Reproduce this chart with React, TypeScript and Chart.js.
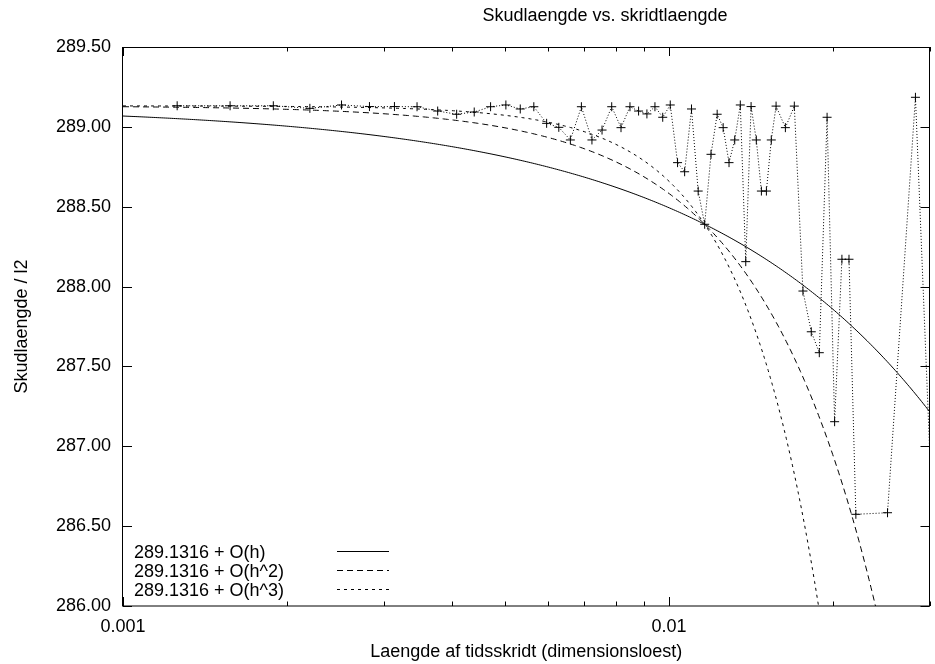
import React, { useEffect, useRef } from "react";
import { Chart, registerables } from "chart.js";

Chart.register(...registerables);

const TITLE = "Skudlaengde vs. skridtlaengde";
const X_TITLE = "Laengde af tidsskridt (dimensionsloest)";
const Y_TITLE = "Skudlaengde / l2";
const FONT = "'Liberation Sans', Arial, Helvetica, sans-serif";

// step lengths h (dimensionless) of the simulation runs
const stepLengths = [
  0.0012566, 0.0015708, 0.001885, 0.0021991, 0.0025133, 0.0028274, 0.0031416,
  0.0034558, 0.0037699, 0.0040841, 0.0043982, 0.0047124, 0.0050265, 0.0053407,
  0.0056549, 0.005969, 0.0062832, 0.0065973, 0.0069115, 0.0072257, 0.0075398,
  0.007854, 0.0081681, 0.0084823, 0.0087965, 0.0091106, 0.0094248, 0.0097389,
  0.0100531, 0.0103673, 0.0106814, 0.0109956, 0.0113097, 0.0116239, 0.0119381,
  0.0122522, 0.0125664, 0.0128805, 0.0131947, 0.0135088, 0.013823, 0.0141372,
  0.0144513, 0.0147655, 0.0150796, 0.0153938, 0.015708, 0.0163363, 0.0169646,
  0.0175929, 0.0182212, 0.0188496, 0.0194779, 0.0201062, 0.0207345, 0.0213628,
  0.0219911, 0.0251327, 0.0282743, 0.0314159,
];

// resulting shot length in units of l2
const shotLengths = [
  289.132, 289.132, 289.132, 289.116, 289.137, 289.127, 289.127,
  289.126, 289.099, 289.079, 289.093, 289.126, 289.137, 289.112,
  289.126, 289.022, 288.997, 288.918, 289.126, 288.918, 288.98,
  289.126, 288.995, 289.126, 289.099, 289.081, 289.126, 289.06,
  289.137, 288.776, 288.719, 289.112, 288.598, 288.39, 288.828,
  289.079, 288.995, 288.776, 288.918, 289.137, 288.156, 289.127,
  288.918, 288.598, 288.598, 288.918, 289.13, 288.995, 289.13,
  287.972, 287.717, 287.586, 289.06, 287.154, 288.171, 288.171,
  286.574, 286.584, 289.185, 285.3,
];

// extrapolated limit and leading-order error coefficients
const LIMIT = 289.1316;
const coefH1 = -63.8;
const coefH2 = -5488;
const coefH3 = -472200;

const legendLabels = ["289.1316 + O(h)", "289.1316 + O(h^2)", "289.1316 + O(h^3)"];

const X_MIN = 0.001;
const X_MAX = 0.03;
const Y_MIN = 286;
const Y_MAX = 289.5;
const Y_STEP = 0.5;
const xMajorTicks = [0.001, 0.01];
const xMinorTicks = [0.002, 0.003, 0.004, 0.005, 0.006, 0.007, 0.008, 0.009, 0.02, 0.03];
const yTickValues = [286, 286.5, 287, 287.5, 288, 288.5, 289, 289.5];

const CURVE_SAMPLES = 400;

function curve(coef: number, power: number) {
  const pts: { x: number; y: number }[] = [];
  const l0 = Math.log10(X_MIN);
  const l1 = Math.log10(X_MAX);
  for (let i = 0; i <= CURVE_SAMPLES; i++) {
    const h = Math.pow(10, l0 + ((l1 - l0) * i) / CURVE_SAMPLES);
    pts.push({ x: h, y: LIMIT + coef * Math.pow(h, power) });
  }
  return pts;
}

const frameAndLabels = {
  id: "frameAndLabels",
  afterDatasetsDraw(chart: any) {
    const { ctx, chartArea } = chart;
    const { left, right, top, bottom } = chartArea;
    const xs = chart.scales.x;
    const ys = chart.scales.y;
    const MAJOR = 9;
    const MINOR = 4.5;
    ctx.save();
    ctx.strokeStyle = "#000";
    ctx.lineWidth = 1;
    ctx.setLineDash([]);
    ctx.beginPath();
    for (const v of yTickValues) {
      const y = Math.round(ys.getPixelForValue(v)) + 0.5;
      ctx.moveTo(left, y);
      ctx.lineTo(left + MAJOR, y);
      ctx.moveTo(right, y);
      ctx.lineTo(right - MAJOR, y);
    }
    for (const v of xMajorTicks) {
      const x = Math.round(xs.getPixelForValue(v)) + 0.5;
      ctx.moveTo(x, bottom);
      ctx.lineTo(x, bottom - MAJOR);
      ctx.moveTo(x, top);
      ctx.lineTo(x, top + MAJOR);
    }
    for (const v of xMinorTicks) {
      const x = Math.round(xs.getPixelForValue(v)) + 0.5;
      ctx.moveTo(x, bottom);
      ctx.lineTo(x, bottom - MINOR);
      ctx.moveTo(x, top);
      ctx.lineTo(x, top + MINOR);
    }
    ctx.stroke();
    ctx.strokeRect(Math.round(left) - 0.5, Math.round(top) + 0.5, Math.round(right - left), Math.round(bottom - top) - 0.5);

    // legend inside the plot, lower left
    ctx.fillStyle = "#000";
    ctx.font = `18px ${FONT}`;
    ctx.textAlign = "left";
    ctx.textBaseline = "middle";
    const rows = [553, 572, 591];
    const datasets = chart.data.datasets;
    for (let i = 0; i < legendLabels.length; i++) {
      const ds = datasets[i + 1];
      ctx.fillText(legendLabels[i], 134, rows[i]);
      ctx.setLineDash(ds.borderDash || []);
      ctx.beginPath();
      ctx.moveTo(337, rows[i] - 1.5);
      ctx.lineTo(389, rows[i] - 1.5);
      ctx.stroke();
    }
    ctx.setLineDash([]);

    // titles
    ctx.textAlign = "center";
    ctx.fillText(TITLE, 605, 16);
    ctx.fillText(X_TITLE, (left + right) / 2, 652);
    ctx.translate(22, (top + bottom) / 2);
    ctx.rotate(-Math.PI / 2);
    ctx.fillText(Y_TITLE, 0, 0);
    ctx.restore();
  },
};

export default function App() {
  const canvasRef = useRef<HTMLCanvasElement | null>(null);

  useEffect(() => {
    const canvas = canvasRef.current;
    if (!canvas) return;
    Chart.defaults.font.family = FONT;
    Chart.defaults.font.size = 18;
    Chart.defaults.color = "#000";

    const measured = stepLengths.map((h, i) => ({ x: h, y: shotLengths[i] }));

    const chart = new Chart(canvas, {
      type: "scatter",
      data: {
        datasets: [
          {
            label: "data",
            data: measured,
            showLine: true,
            borderColor: "#000",
            borderWidth: 1,
            borderDash: [1, 2],
            pointStyle: "cross",
            pointRadius: 4.5,
            pointBorderWidth: 1,
            pointBorderColor: "#000",
            pointBackgroundColor: "#000",
          },
          {
            label: legendLabels[0],
            data: curve(coefH1, 1),
            showLine: true,
            borderColor: "#000",
            borderWidth: 1,
            pointRadius: 0,
          },
          {
            label: legendLabels[1],
            data: curve(coefH2, 2),
            showLine: true,
            borderColor: "#000",
            borderWidth: 1,
            borderDash: [6, 4],
            pointRadius: 0,
          },
          {
            label: legendLabels[2],
            data: curve(coefH3, 3),
            showLine: true,
            borderColor: "#000",
            borderWidth: 1,
            borderDash: [3, 4],
            pointRadius: 0,
          },
        ],
      },
      options: {
        animation: false,
        responsive: false,
        maintainAspectRatio: false,
        layout: { padding: { top: 47, right: 1, left: 0, bottom: 0 } },
        plugins: {
          legend: { display: false },
          title: { display: false },
          tooltip: { enabled: false },
        },
        scales: {
          x: {
            type: "logarithmic",
            min: X_MIN,
            max: X_MAX,
            grid: { display: false, drawTicks: false },
            border: { display: false },
            afterBuildTicks: (scale: any) => {
              scale.ticks = xMajorTicks.map((v) => ({ value: v }));
            },
            afterFit: (scale: any) => {
              scale.height = 58;
            },
            ticks: {
              autoSkip: false,
              maxRotation: 0,
              padding: 10,
              callback: (v: any) => String(v),
            },
          },
          y: {
            type: "linear",
            min: Y_MIN,
            max: Y_MAX,
            grid: { display: false, drawTicks: false },
            border: { display: false },
            afterFit: (scale: any) => {
              scale.width = 123;
            },
            ticks: {
              stepSize: Y_STEP,
              padding: 12,
              callback: (v: any) => Number(v).toFixed(2),
            },
          },
        },
      },
      plugins: [frameAndLabels],
    });
    return () => chart.destroy();
  }, []);

  return (
    <div style={{ position: "fixed", left: 0, top: 0, width: 935, height: 664, background: "#fff" }}>
      <canvas ref={canvasRef} width={935} height={664} style={{ width: 935, height: 664, display: "block" }} />
    </div>
  );
}
